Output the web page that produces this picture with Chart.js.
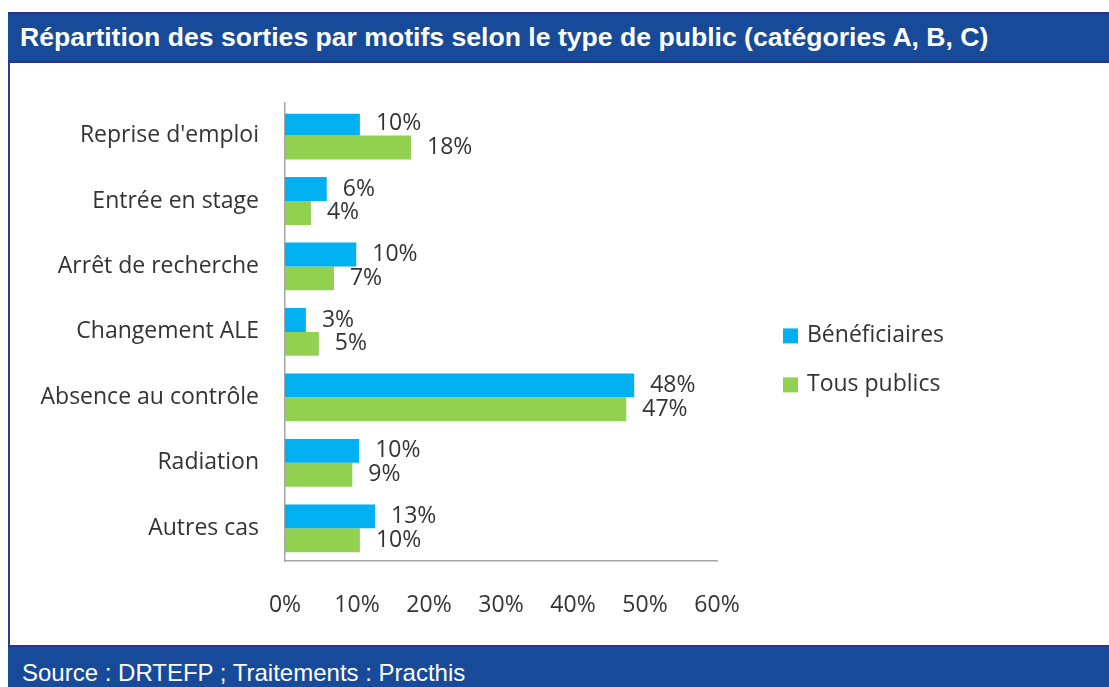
<!DOCTYPE html>
<html>
<head>
<meta charset="utf-8">
<script src="https://cdn.jsdelivr.net/npm/chart.js@4.4.1/dist/chart.umd.min.js"></script>
<style>
  html, body { margin: 0; padding: 0; background: #ffffff; }
  body { width: 1109px; height: 687px; position: relative; overflow: hidden; }
  #frame { position: absolute; left: 8px; top: 12px; width: 1101px; height: 675px; border-left: 2px solid #2b3b92; box-sizing: border-box; }
  #header { position: absolute; left: 8px; top: 12px; width: 1101px; height: 51px; background: #174a98;
            border-top: 2px solid #2e3192; border-bottom: 2px solid #2e3192; box-sizing: border-box;
            color: #fff; font-family: "Liberation Sans", Arial, sans-serif; font-weight: bold; font-size: 26.6px;
            line-height: 47px; padding-left: 12px; white-space: nowrap; }
  #footer { position: absolute; left: 8px; top: 645px; width: 1101px; height: 42px; background: #174a98;
            border-top: 2px solid #2e3192; box-sizing: border-box;
            color: #fff; font-family: "Liberation Sans", Arial, sans-serif; font-size: 24px;
            line-height: 52px; padding-left: 14px; white-space: nowrap; }
  #wrap { position: absolute; left: 10px; top: 63px; width: 1099px; height: 582px; }
</style>
</head>
<body>
<div id="frame"></div>
<div id="header">Répartition des sorties par motifs selon le type de public (catégories A, B, C)</div>
<div id="wrap"><canvas id="c" width="1099" height="582"></canvas></div>
<div id="footer">Source : DRTEFP ; Traitements : Practhis</div>
<script>
const categories = ["Reprise d'emploi", "Entrée en stage", "Arrêt de recherche", "Changement ALE", "Absence au contrôle", "Radiation", "Autres cas"];
const beneficiaires = [10.4, 5.8, 9.9, 2.9, 48.5, 10.3, 12.5];
const tousPublics = [17.5, 3.6, 6.8, 4.7, 47.4, 9.35, 10.4];
const beneficiairesLabels = ["10%", "6%", "10%", "3%", "48%", "10%", "13%"];
const tousPublicsLabels = ["18%", "4%", "7%", "5%", "47%", "9%", "10%"];
const xTicks = [0, 10, 20, 30, 40, 50, 60];
const seriesNames = ["Bénéficiaires", "Tous publics"];
const seriesColors = ["#00b0f0", "#92d050"];

const textColor = "#333333";
const chartFont = "'Open Sans', Lato, sans-serif";
const fontSize = 23;

const valueLabels = {
  id: 'valueLabels',
  afterDatasetsDraw(chart) {
    const ctx = chart.ctx;
    const lists = [beneficiairesLabels, tousPublicsLabels];
    ctx.save();
    ctx.font = fontSize + "px " + chartFont;
    ctx.fillStyle = textColor;
    ctx.textAlign = 'left';
    ctx.textBaseline = 'middle';
    chart.data.datasets.forEach((ds, di) => {
      const meta = chart.getDatasetMeta(di);
      meta.data.forEach((el, i) => {
        ctx.fillText(lists[di][i], el.x + 16, el.y);
      });
    });
    ctx.restore();
  }
};

const sideLegend = {
  id: 'sideLegend',
  afterDraw(chart) {
    const ctx = chart.ctx;
    const x0 = chart.chartArea.right + 66;
    const yMid = (chart.chartArea.top + chart.chartArea.bottom) / 2 + 28;
    ctx.save();
    ctx.font = fontSize + "px " + chartFont;
    ctx.textAlign = 'left';
    ctx.textBaseline = 'middle';
    chart.data.datasets.forEach((ds, i) => {
      const y = yMid + (i - 0.5) * 49;
      ctx.fillStyle = ds.backgroundColor;
      ctx.fillRect(x0, y - 7, 15, 15);
      ctx.fillStyle = textColor;
      ctx.fillText(ds.label, x0 + 24, y);
    });
    ctx.restore();
  }
};

new Chart(document.getElementById('c'), {
  type: 'bar',
  data: {
    labels: categories,
    datasets: [
      { label: seriesNames[0], data: beneficiaires, backgroundColor: seriesColors[0], clip: {left: 0, top: -11, right: 0, bottom: 0} },
      { label: seriesNames[1], data: tousPublics, backgroundColor: seriesColors[1], clip: {left: 0, top: -11, right: 0, bottom: 0} }
    ]
  },
  options: {
    indexAxis: 'y',
    responsive: false,
    animation: false,
    devicePixelRatio: 1,
    datasets: { bar: { barPercentage: 1, categoryPercentage: 0.73 } },
    layout: { padding: { top: 38, right: 392, left: 0, bottom: 0 } },
    plugins: { legend: { display: false }, tooltip: { enabled: false } },
    scales: {
      x: {
        min: 0, max: 60,
        afterBuildTicks(s) { s.ticks = xTicks.map(v => ({ value: v })); },
        afterFit(s) { s.height = 84; },
        grid: { display: false, drawTicks: false },
        border: { display: true, color: '#a6a6a6', width: 1.5 },
        ticks: { padding: 31, color: textColor, font: { family: chartFont, size: fontSize }, callback: v => v + '%' }
      },
      y: {
        afterFit(s) { s.width = 275; },
        grid: { display: false, drawTicks: false },
        border: { display: true, color: '#a6a6a6', width: 1.5 },
        ticks: { padding: 26, color: textColor, font: { family: chartFont, size: fontSize } }
      }
    }
  },
  plugins: [valueLabels, sideLegend]
});
</script>
</body>
</html>
